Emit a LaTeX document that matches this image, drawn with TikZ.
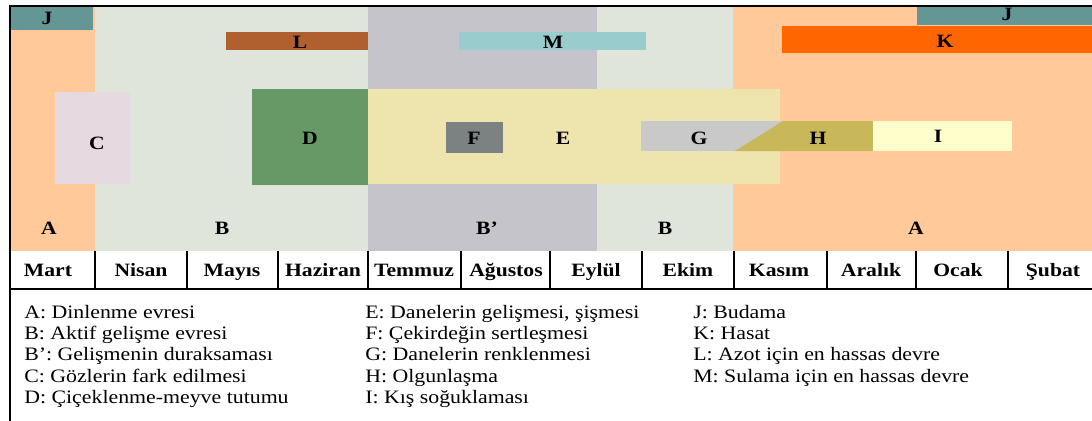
\documentclass[tikz,border=0pt]{standalone}
\usepackage{fontspec}
\setmainfont[FakeStretch=1.15]{Liberation Serif}
\usepackage{tikz}
\usetikzlibrary{positioning}
\definecolor{restcol}{HTML}{FFC999}
\definecolor{growcol}{HTML}{E0E5DC}
\definecolor{pausecol}{HTML}{C5C4CA}
\definecolor{prunecol}{HTML}{649696}
\definecolor{harvcol}{HTML}{FF6600}
\definecolor{nitrocol}{HTML}{B0602F}
\definecolor{watercol}{HTML}{99CCCC}
\definecolor{budcol}{HTML}{E6D9E0}
\definecolor{flowercol}{HTML}{669966}
\definecolor{swellcol}{HTML}{EDE4AE}
\definecolor{stonecol}{HTML}{7B8281}
\definecolor{tintcol}{HTML}{C9C9C9}
\definecolor{ripecol}{HTML}{C8B85A}
\definecolor{chillcol}{HTML}{FFFFCC}
\tikzset{
  lab/.style={font=\bfseries\fontsize{13.4}{15}\selectfont, inner sep=0pt, text=black},
  month/.style={font=\bfseries\fontsize{13.4}{15}\selectfont, inner sep=0pt,
    anchor=base},
  leg/.style={font=\fontsize{13.5}{16}\selectfont, inner sep=0pt,
    anchor=base west},
  frame/.style={draw=black, line width=1.4pt},
  sep/.style={draw=black, line width=1.1pt}}
\begin{document}
\begin{tikzpicture}[x=0.025cm, y=-0.025cm]
  \useasboundingbox (0,0) rectangle (1092,421);
  \clip (0,0) rectangle (1092,421);
  % phase bands
  \fill[restcol] (10,7) rectangle (95,251);
  \fill[growcol] (95,7) rectangle (368,251);
  \fill[pausecol] (368,7) rectangle (597,251);
  \fill[growcol] (597,7) rectangle (733,251);
  \fill[restcol] (733,7) rectangle (1100,251);
  % periods
  \fill[prunecol] (10,7) rectangle (93,30);
  \fill[prunecol] (917,7) rectangle (1100,25);
  \fill[harvcol] (782,26) rectangle (1100,53);
  \fill[nitrocol] (226,32) rectangle (368,50);
  \fill[watercol] (459,32) rectangle (646,50);
  \fill[budcol] (55,92) rectangle (130,184);
  \fill[flowercol] (252,89) rectangle (368,185);
  \fill[swellcol] (368,89) rectangle (780,184);
  \fill[stonecol] (446,122) rectangle (503,153);
  \fill[tintcol] (641,121) rectangle (783,151);
  \fill[ripecol] (783,121) -- (873,121) -- (873,151) -- (735,151) -- cycle;
  \fill[chillcol] (873,121) rectangle (1012,151);
  % letters
  \node[lab] (labJa) at (47,18) {J};
  \node[lab] (labJb) at (1007,14) {J};
  \node[lab] (labL) at (300,42) {L};
  \node[lab] (labM) at (553,42) {M};
  \node[lab] (labK) at (945,41) {K};
  \node[lab] (labC) at (97,143) {C};
  \node[lab] (labD) at (310,138) {D};
  \node[lab] (labF) at (474,138) {F};
  \node[lab] (labE) at (563,138) {E};
  \node[lab] (labG) at (699,138) {G};
  \node[lab] (labH) at (818,138) {H};
  \node[lab] (labI) at (938,136) {I};
  \node[lab] (labAa) at (49,228) {A};
  \node[lab] (labBa) at (222,228) {B};
  \node[lab] (labBp) at (487,228) {B’};
  \node[lab] (labBb) at (665,228) {B};
  \node[lab] (labAb) at (916,228) {A};
  % months
  \draw[sep] (95,251) -- (95,289);
  \draw[sep] (187,251) -- (187,289);
  \draw[sep] (278,251) -- (278,289);
  \draw[sep] (368,251) -- (368,289);
  \draw[sep] (461,251) -- (461,289);
  \draw[sep] (550,251) -- (550,289);
  \draw[sep] (642,251) -- (642,289);
  \draw[sep] (734,251) -- (734,289);
  \draw[sep] (827,251) -- (827,289);
  \draw[sep] (916,251) -- (916,289);
  \draw[sep] (1008,251) -- (1008,289);
  \node[month] (mart) at (48,276) {Mart};
  \node[month] (nisan) at (141,276) {Nisan};
  \node[month] (mayis) at (232,276) {Mayıs};
  \node[month] (haziran) at (323,276) {Haziran};
  \node[month] (temmuz) at (414,276) {Temmuz};
  \node[month] (agustos) at (506,276) {Ağustos};
  \node[month] (eylul) at (596,276) {Eylül};
  \node[month] (ekim) at (688,276) {Ekim};
  \node[month] (kasim) at (779,276) {Kasım};
  \node[month] (aralik) at (871,276) {Aralık};
  \node[month] (ocak) at (958,276) {Ocak};
  \node[month] (subat) at (1053,276) {Şubat};
  % frame
  \draw[frame] (1100,6) -- (10,6) -- (10,430);
  \draw[frame] (10,289) -- (1100,289);
  % key
  \node[leg] (keyA) at (24,318) {A: Dinlenme evresi};
  \node[leg] (keyB) at (24,339) {B: Aktif gelişme evresi};
  \node[leg] (keyBp) at (24,360) {B’: Gelişmenin duraksaması};
  \node[leg] (keyC) at (24,382) {C: Gözlerin fark edilmesi};
  \node[leg] (keyD) at (24,403) {D: Çiçeklenme-meyve tutumu};
  \node[leg] (keyE) at (365,318) {E: Danelerin gelişmesi, şişmesi};
  \node[leg] (keyF) at (365,339) {F: Çekirdeğin sertleşmesi};
  \node[leg] (keyG) at (365,360) {G: Danelerin renklenmesi};
  \node[leg] (keyH) at (365,382) {H: Olgunlaşma};
  \node[leg] (keyI) at (365,403) {I: Kış soğuklaması};
  \node[leg] (keyJ) at (693,318) {J: Budama};
  \node[leg] (keyK) at (693,339) {K: Hasat};
  \node[leg] (keyL) at (693,360) {L: Azot için en hassas devre};
  \node[leg] (keyM) at (693,382) {M: Sulama için en hassas devre};
\end{tikzpicture}
\end{document}
